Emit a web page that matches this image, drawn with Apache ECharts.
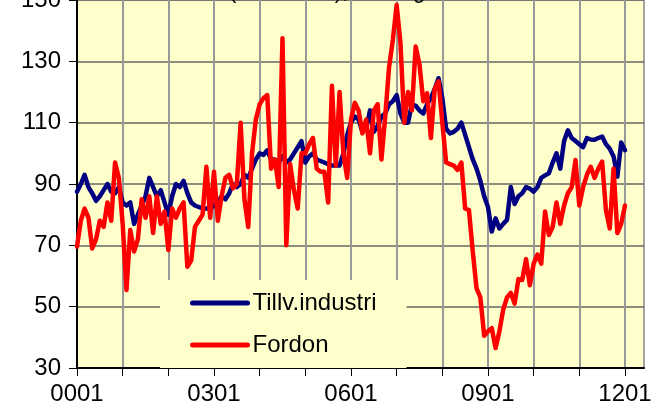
<!DOCTYPE html>
<html>
<head>
<meta charset="utf-8">
<title>Tillv.industri och Fordon</title>
<script src="https://cdn.jsdelivr.net/npm/echarts@6/dist/echarts.min.js"></script>
<style>
  html, body { margin: 0; padding: 0; background: #ffffff; }
  #chart { width: 663px; height: 409px; }
</style>
</head>
<body>
<div id="chart"></div>
<script>
// månader 0001 .. 1206 (axeln går lite förbi sista värdet)
const months = [];
for (let y = 0; y <= 12; y++) {
  for (let m = 1; m <= 12; m++) {
    if (y === 12 && m > 6) break;
    months.push(String(y).padStart(2, '0') + String(m).padStart(2, '0'));
  }
}

const yTicks = [30, 50, 70, 90, 110, 130, 150];

// Tillv.industri, 0001 - 1201
const industri = [
  87.5, 90, 93, 89, 87, 84.5, 86, 88, 90, 87.5, 87, 89,
  84, 83, 84, 77, 80, 83, 86, 92, 89, 86, 88, 84,
  80, 86, 90, 89, 91, 87, 84, 83, 82.5, 82, 82, 82,
  83, 84, 86, 85, 87, 90, 89, 90, 93, 92, 95, 98,
  100, 99.5, 101, 98, 98, 97, 99, 97, 98, 100, 102, 104,
  97, 99, 100, 98, 97.5, 97, 96.5, 96, 96, 96, 100, 106,
  110, 112, 111, 107, 108, 114, 107, 109, 112, 113, 116, 117,
  119, 113, 110, 110, 116, 115.5, 114, 113, 116, 118, 121, 124.5,
  118, 108, 106.5, 107, 108, 110, 106, 102, 98, 95, 91, 86,
  82.5, 74.5, 78.8, 75.5, 77, 78.3, 89, 83.5, 86, 87, 89, 88.5,
  87.5, 89, 92, 92.8, 93.5, 97, 100, 95, 104, 107.5, 105, 104,
  103, 102, 105, 104.5, 104.4, 105, 105.5, 103, 101.5, 99, 92.4, 103.5,
  101
];

// Fordon, 0001 - 1201
const fordon = [
  69.6, 78, 82, 79, 69, 72, 78, 76, 84, 78, 97, 92,
  77, 55.4, 75, 68, 72, 85, 79, 86, 74, 86, 77, 81,
  68.5, 82, 79, 82, 84, 63, 65, 76, 78, 80, 95.6, 79,
  94, 78, 86, 92, 93, 88.6, 90, 110, 85, 76, 100, 111,
  116, 118, 119, 95, 98, 89, 137.5, 70, 96.5, 88, 82, 100,
  100, 103, 105, 95, 94, 94, 84, 122, 96, 120, 100, 92,
  111, 116.5, 114, 106.5, 111, 100, 114, 116, 98, 112, 128, 137,
  148.4, 136, 110, 120, 114, 134.8, 129, 117, 119.6, 105, 121, 123.5,
  110, 97, 96.5, 96, 94.6, 97, 82, 81.5, 68, 56, 53, 40.5,
  42, 43, 36.5, 42, 49, 53, 54.5, 51, 59, 58.7, 65.5, 57,
  64, 67, 64, 81, 73.4, 76, 84, 77, 83, 87, 89, 97.8,
  83, 89, 93, 95.6, 92, 95, 97.3, 81.5, 75.5, 95, 74, 77,
  83
];

const font = "'Liberation Sans', Arial, sans-serif";
const chart = echarts.init(document.getElementById('chart'));

chart.setOption({
  backgroundColor: '#ffffff',
  animation: false,
  title: {
    text: '(2005=100), säsongrensade',
    left: 229,
    top: -19,
    padding: 0,
    textStyle: { fontFamily: font, fontSize: 22, fontWeight: 'normal', color: '#000' }
  },
  grid: {
    left: 77, right: 19, top: 0, bottom: 41,
    outerBoundsMode: 'none',
    show: true,
    backgroundColor: '#ffffcc',
    borderColor: '#888888',
    borderWidth: 1.5
  },
  legend: {
    orient: 'vertical',
    left: 160,
    top: 280,
    padding: [11, 30, 11, 30],
    itemGap: 18,
    itemWidth: 55,
    itemHeight: 24,
    backgroundColor: '#ffffcc',
    itemStyle: { opacity: 0 },
    lineStyle: { width: 5, cap: 'round' },
    textStyle: { fontFamily: font, fontSize: 24, color: '#000' },
    data: ['Tillv.industri', 'Fordon']
  },
  xAxis: {
    type: 'category',
    boundaryGap: false,
    data: months,
    axisLine: { lineStyle: { color: '#000', width: 2 } },
    axisTick: {
      interval: (i) => i % 12 === 0,
      length: 8,
      lineStyle: { color: '#000', width: 1 }
    },
    axisLabel: {
      interval: (i) => i % 36 === 0,
      margin: 14,
      fontFamily: font,
      fontSize: 24,
      color: '#000'
    },
    splitLine: {
      show: true,
      interval: (i) => i % 12 === 0,
      lineStyle: { color: '#999999', width: 2 }
    }
  },
  yAxis: {
    type: 'value',
    min: yTicks[0],
    max: yTicks[yTicks.length - 1],
    interval: 20,
    axisLine: { show: true, lineStyle: { color: '#000', width: 2 } },
    axisTick: { show: true, length: 8, lineStyle: { color: '#000', width: 1 } },
    axisLabel: {
      margin: 16,
      fontFamily: font,
      fontSize: 24,
      color: '#000'
    },
    splitLine: { show: true, lineStyle: { color: '#666666', width: 1.5 } }
  },
  series: [
    {
      name: 'Tillv.industri',
      type: 'line',
      data: industri,
      symbol: 'none',
      color: '#000080',
      lineStyle: { color: '#000080', width: 4.5, join: 'round', cap: 'round' }
    },
    {
      name: 'Fordon',
      type: 'line',
      data: fordon,
      symbol: 'none',
      color: '#ff0000',
      lineStyle: { color: '#ff0000', width: 4.5, join: 'round', cap: 'round' }
    }
  ]
});
</script>
</body>
</html>
